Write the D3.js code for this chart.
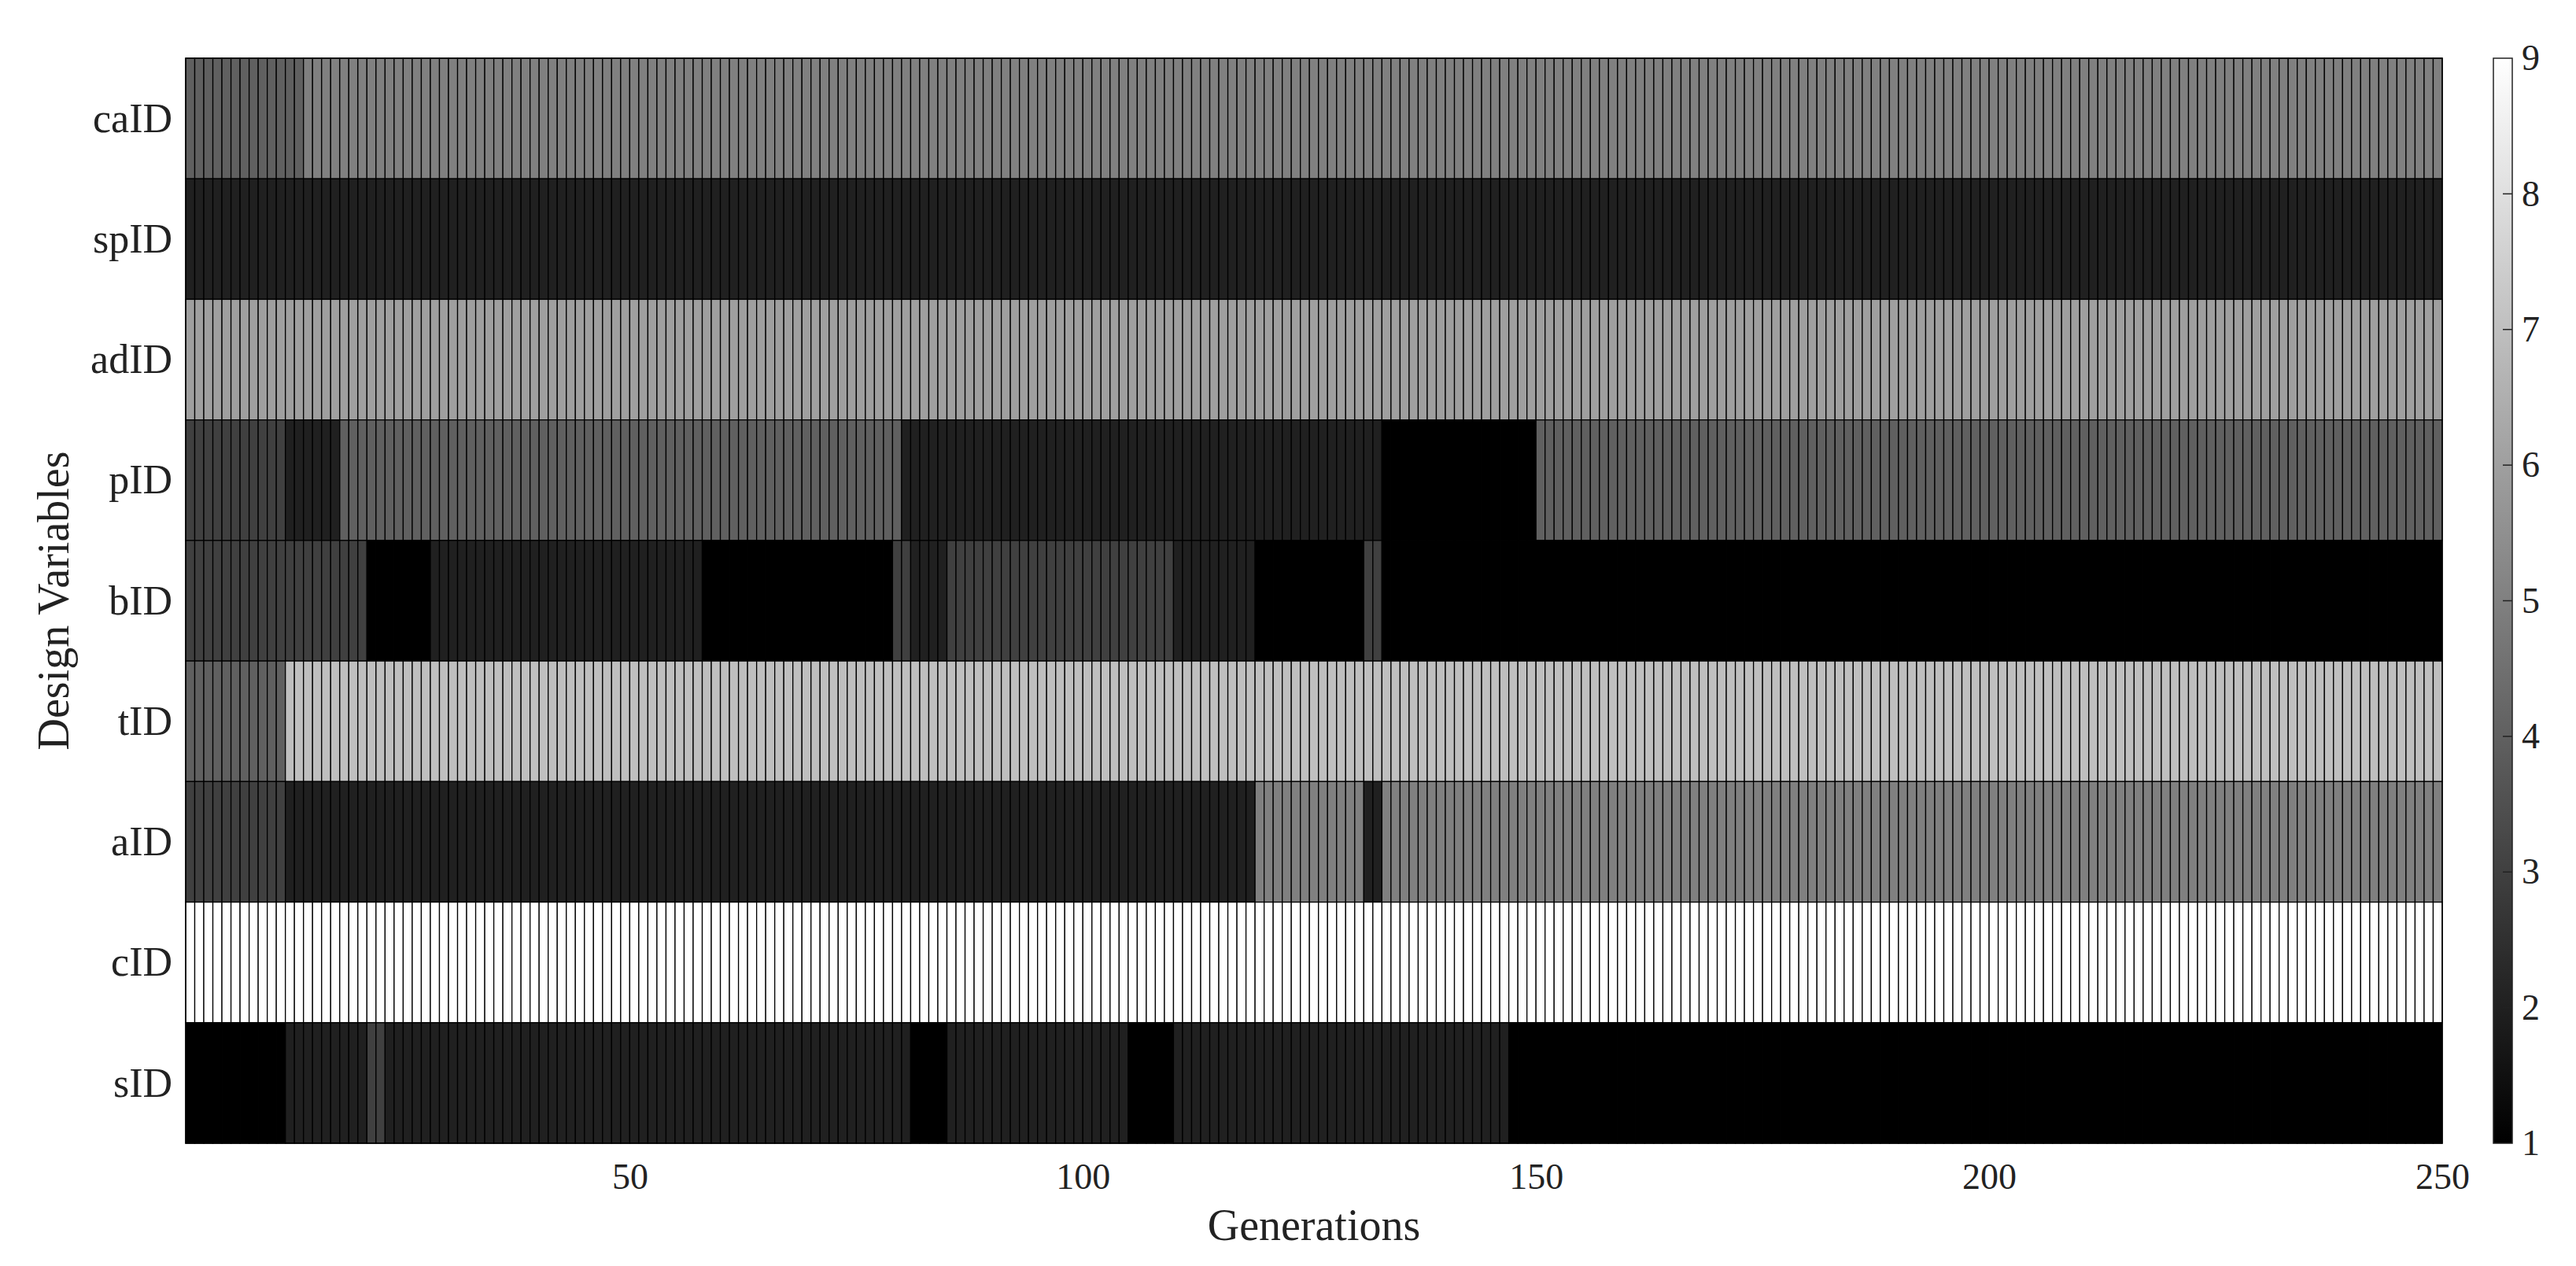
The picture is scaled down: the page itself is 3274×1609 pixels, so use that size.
<!DOCTYPE html>
<meta charset="utf-8">
<head>
  <title>Design variables per generation</title>
</head>

<style>
body {
  margin: 0;
  background: #fff;
}
text {
  font-family: "Liberation Serif", "DejaVu Serif", serif;
  fill: #222;
}
</style>

<body>
  <div id="chart"></div>

  <script src="https://cdnjs.cloudflare.com/ajax/libs/d3/7.8.5/d3.min.js"></script>

  <script>
// rows, top to bottom
var variables = ['caID', 'spID', 'adID', 'pID', 'bID', 'tID', 'aID', 'cID', 'sID'];

// each row as runs of [value, number of generations] (249 cells, generations 1..250)
var caID = [[4, 13], [5, 236]];
var spID = [[2, 249]];
var adID = [[6, 249]];
var pID  = [[3, 11], [2, 6], [4, 62], [2, 53], [1, 17], [4, 100]];
var bID  = [[3, 20], [1, 7], [2, 30], [1, 21], [3, 2], [2, 4], [3, 25], [2, 9], [1, 12], [3, 2], [1, 117]];
var tID  = [[4, 11], [7, 238]];
var aID  = [[3, 11], [2, 107], [5, 12], [2, 2], [5, 117]];
var cID  = [[9, 249]];
var sID  = [[1, 11], [2, 9], [3, 2], [2, 58], [1, 4], [2, 20], [1, 5], [2, 37], [1, 103]];

var xTicks = [50, 100, 150, 200, 250];
var colorTicks = [1, 2, 3, 4, 5, 6, 7, 8, 9];

var runs = {caID: caID, spID: spID, adID: adID, pID: pID, bID: bID, tID: tID, aID: aID, cID: cID, sID: sID};

var width = 3274, height = 1609;
var plot = {left: 236, right: 3104, top: 74, bottom: 1453};

var svg = d3.select('#chart').append('svg')
  .attr('width', width)
  .attr('height', height);

var x = d3.scaleLinear()
  .domain([1, 250])
  .range([plot.left, plot.right]);

var y = d3.scaleBand()
  .domain(variables)
  .range([plot.top, plot.bottom]);

var color = d3.scaleLinear()
  .domain([1, 9])
  .range(['#000000', '#ffffff']);

// unroll the runs into one cell per generation
var cells = [];
variables.forEach(function(name) {
  var gen = 1;
  runs[name].forEach(function(r) {
    for (var i = 0; i < r[1]; i++) {
      cells.push({name: name, gen: gen, value: r[0]});
      gen++;
    }
  });
});

svg.append('g')
  .selectAll('rect')
  .data(cells)
  .enter().append('rect')
  .attr('x', function(d) { return x(d.gen); })
  .attr('y', function(d) { return y(d.name); })
  .attr('width', function(d) { return x(d.gen + 1) - x(d.gen); })
  .attr('height', y.bandwidth())
  .attr('fill', function(d) { return color(d.value); })
  .attr('stroke', '#000')
  .attr('stroke-width', 1.3);

// box
svg.append('rect')
  .attr('x', plot.left)
  .attr('y', plot.top)
  .attr('width', plot.right - plot.left)
  .attr('height', plot.bottom - plot.top)
  .attr('fill', 'none')
  .attr('stroke', '#000')
  .attr('stroke-width', 1.5);

// x axis labels (ticks sit under the cells)
var xAxis = svg.append('g')
  .attr('transform', 'translate(0,' + plot.bottom + ')')
  .call(d3.axisBottom(x).tickValues(xTicks).tickSize(0).tickPadding(0));
xAxis.select('.domain').remove();
xAxis.selectAll('text')
  .attr('dy', null)
  .attr('y', 58)
  .style('font-size', '46px');

// y axis labels
var yAxis = svg.append('g')
  .attr('transform', 'translate(' + plot.left + ',0)')
  .call(d3.axisLeft(y).tickSize(0).tickPadding(0));
yAxis.select('.domain').remove();
yAxis.selectAll('text')
  .attr('x', -17)
  .attr('dy', '0.33em')
  .style('font-size', '52px');

svg.append('text')
  .attr('x', (plot.left + plot.right) / 2)
  .attr('y', 1576)
  .attr('text-anchor', 'middle')
  .style('font-size', '56px')
  .text('Generations');

svg.append('text')
  .attr('transform', 'translate(87,' + (plot.top + plot.bottom) / 2 + ') rotate(-90)')
  .attr('text-anchor', 'middle')
  .style('font-size', '56px')
  .text('Design Variables');

// colorbar
var cb = {left: 3169, right: 3193};
var cy = d3.scaleLinear()
  .domain([1, 9])
  .range([plot.bottom, plot.top]);

var grad = svg.append('defs').append('linearGradient')
  .attr('id', 'grayramp')
  .attr('x1', 0).attr('y1', 1)
  .attr('x2', 0).attr('y2', 0);
grad.selectAll('stop')
  .data(colorTicks)
  .enter().append('stop')
  .attr('offset', function(d) { return (d - 1) / 8; })
  .attr('stop-color', function(d) { return color(d); });

svg.append('rect')
  .attr('x', cb.left)
  .attr('y', plot.top)
  .attr('width', cb.right - cb.left)
  .attr('height', plot.bottom - plot.top)
  .attr('fill', 'url(#grayramp)')
  .attr('stroke', '#222')
  .attr('stroke-width', 1.5);

var cAxis = svg.append('g')
  .attr('transform', 'translate(' + cb.right + ',0)')
  .call(d3.axisRight(cy).tickValues(colorTicks).tickSize(0).tickPadding(12));
cAxis.select('.domain').remove();
cAxis.selectAll('text').style('font-size', '46px');

// inward tick marks on the colorbar
svg.append('g')
  .selectAll('line')
  .data(colorTicks.slice(1, -1))
  .enter().append('line')
  .attr('x1', cb.right - 12)
  .attr('x2', cb.right)
  .attr('y1', function(d) { return cy(d); })
  .attr('y2', function(d) { return cy(d); })
  .attr('stroke', '#222')
  .attr('stroke-width', 1.5);
  </script>
</body>
</html>
